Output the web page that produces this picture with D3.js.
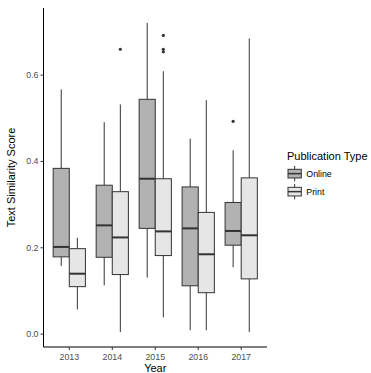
<!DOCTYPE html>
<html>
<head>
<meta charset="utf-8">
<script src="https://cdn.jsdelivr.net/npm/d3@7"></script>
<style>
  body { margin: 0; background: #fff; }
  text { font-family: "Liberation Sans", Arial, sans-serif; }
</style>
</head>
<body>
<svg id="chart"></svg>
<script>
const years = ['2013', '2014', '2015', '2016', '2017'];
const types = ['Online', 'Print'];
const yTicks = [0.0, 0.2, 0.4, 0.6];

// [lowerWhisker, q1, median, q3, upperWhisker] per year
const onlineStats = [
  [0.158, 0.179, 0.202, 0.384, 0.567],
  [0.113, 0.178, 0.252, 0.345, 0.491],
  [0.131, 0.245, 0.360, 0.544, 0.721],
  [0.009, 0.112, 0.245, 0.341, 0.453],
  [0.155, 0.206, 0.239, 0.305, 0.426],
];
const printStats = [
  [0.057, 0.110, 0.140, 0.198, 0.223],
  [0.005, 0.138, 0.224, 0.330, 0.532],
  [0.039, 0.182, 0.238, 0.360, 0.609],
  [0.009, 0.096, 0.185, 0.282, 0.542],
  [0.005, 0.128, 0.229, 0.362, 0.685],
];
const onlineOutliers = [[], [], [], [], [0.493]];
const printOutliers = [[], [0.660], [0.692, 0.660, 0.654], [], []];

const fills = { Online: '#b2b2b2', Print: '#e6e6e6' };

const containerWidth = 371;
const containerHeight = 373;
const margin = { top: 8, right: 104, bottom: 26, left: 43.5 };
const width = containerWidth - margin.left - margin.right;
const height = containerHeight - margin.top - margin.bottom;

const svgEl = d3.select('#chart')
  .attr('width', containerWidth)
  .attr('height', containerHeight);

const svg = svgEl.append('g')
  .attr('transform', `translate(${margin.left},${margin.top})`);

// ggplot-like discrete axis: each category 1 unit, 0.6 expansion each side
const unit = width / (years.length - 1 + 1.2);
const x = d3.scalePoint()
  .domain(years)
  .range([unit * 0.6, width - unit * 0.6]);

const xSub = d3.scaleBand()
  .domain(types)
  .range([-unit * 0.375, unit * 0.375]);

const y = d3.scaleLinear()
  .domain([-0.0298, 0.7555])
  .range([height, 0]);

const boxes = [];
years.forEach((yr, i) => {
  boxes.push({ year: yr, type: 'Online', s: onlineStats[i], out: onlineOutliers[i] });
  boxes.push({ year: yr, type: 'Print', s: printStats[i], out: printOutliers[i] });
});

const g = svg.selectAll('g.box')
  .data(boxes)
  .enter()
  .append('g')
  .attr('class', 'box')
  .attr('transform', (d) => `translate(${x(d.year) + xSub(d.type)},0)`);

const bw = xSub.bandwidth();

g.append('line')
  .attr('x1', bw / 2).attr('x2', bw / 2)
  .attr('y1', (d) => y(d.s[4])).attr('y2', (d) => y(d.s[3]))
  .attr('stroke', '#333').attr('stroke-width', 1);
g.append('line')
  .attr('x1', bw / 2).attr('x2', bw / 2)
  .attr('y1', (d) => y(d.s[1])).attr('y2', (d) => y(d.s[0]))
  .attr('stroke', '#333').attr('stroke-width', 1);

g.append('rect')
  .attr('x', 0)
  .attr('width', bw)
  .attr('y', (d) => y(d.s[3]))
  .attr('height', (d) => y(d.s[1]) - y(d.s[3]))
  .attr('fill', (d) => fills[d.type])
  .attr('stroke', '#333')
  .attr('stroke-width', 1);

g.append('line')
  .attr('x1', 0).attr('x2', bw)
  .attr('y1', (d) => y(d.s[2])).attr('y2', (d) => y(d.s[2]))
  .attr('stroke', '#333').attr('stroke-width', 2);

g.selectAll('circle')
  .data((d) => d.out)
  .enter()
  .append('circle')
  .attr('cx', bw / 2)
  .attr('cy', (v) => y(v))
  .attr('r', 1.6)
  .attr('fill', '#333');

// axes
const xAxis = svg.append('g')
  .attr('transform', `translate(0,${height})`);
xAxis.append('line')
  .attr('x1', 0).attr('x2', width)
  .attr('stroke', '#000').attr('stroke-width', 1);
xAxis.selectAll('g.tick')
  .data(years)
  .enter()
  .append('g')
  .attr('class', 'tick')
  .attr('transform', (d) => `translate(${x(d)},0)`)
  .call((t) => {
    t.append('line').attr('y2', 3).attr('stroke', '#333');
    t.append('text')
      .attr('y', 12.5)
      .attr('text-anchor', 'middle')
      .attr('font-size', 8.8)
      .attr('fill', '#4d4d4d')
      .text((d) => d);
  });

const yAxis = svg.append('g');
yAxis.append('line')
  .attr('y1', 0).attr('y2', height)
  .attr('stroke', '#000').attr('stroke-width', 1);
yAxis.selectAll('g.tick')
  .data(yTicks)
  .enter()
  .append('g')
  .attr('class', 'tick')
  .attr('transform', (d) => `translate(0,${y(d)})`)
  .call((t) => {
    t.append('line').attr('x2', -3).attr('stroke', '#333');
    t.append('text')
      .attr('x', -5)
      .attr('dy', '0.34em')
      .attr('text-anchor', 'end')
      .attr('font-size', 8.8)
      .attr('fill', '#4d4d4d')
      .text((d) => d.toFixed(1));
  });

svg.append('text')
  .attr('x', width / 2)
  .attr('y', height + 25)
  .attr('text-anchor', 'middle')
  .attr('font-size', 11)
  .attr('fill', '#000')
  .text('Year');

svg.append('text')
  .attr('transform', `translate(${-29},${height / 2}) rotate(-90)`)
  .attr('text-anchor', 'middle')
  .attr('font-size', 11)
  .attr('fill', '#000')
  .text('Text Similarity Score');

// legend
const legend = svgEl.append('g').attr('transform', 'translate(287,148)');
legend.append('text')
  .attr('x', 0)
  .attr('y', 12)
  .attr('font-size', 11)
  .attr('fill', '#000')
  .text('Publication Type');

const keySize = 17.3;
const key = legend.selectAll('g.key')
  .data(types)
  .enter()
  .append('g')
  .attr('class', 'key')
  .attr('transform', (d, i) => `translate(-1,${17 + i * 18})`);

key.append('line')
  .attr('x1', keySize / 2).attr('x2', keySize / 2)
  .attr('y1', 1).attr('y2', keySize - 1)
  .attr('stroke', '#333');
key.append('rect')
  .attr('x', 2).attr('y', keySize * 0.25)
  .attr('width', keySize - 4).attr('height', keySize * 0.5)
  .attr('fill', (d) => fills[d])
  .attr('stroke', '#333');
key.append('line')
  .attr('x1', 2).attr('x2', keySize - 2)
  .attr('y1', keySize / 2).attr('y2', keySize / 2)
  .attr('stroke', '#333').attr('stroke-width', 1.5);
key.append('text')
  .attr('x', keySize + 3)
  .attr('y', keySize / 2)
  .attr('dy', '0.34em')
  .attr('font-size', 8.8)
  .attr('fill', '#000')
  .text((d) => d);
</script>
</body>
</html>
